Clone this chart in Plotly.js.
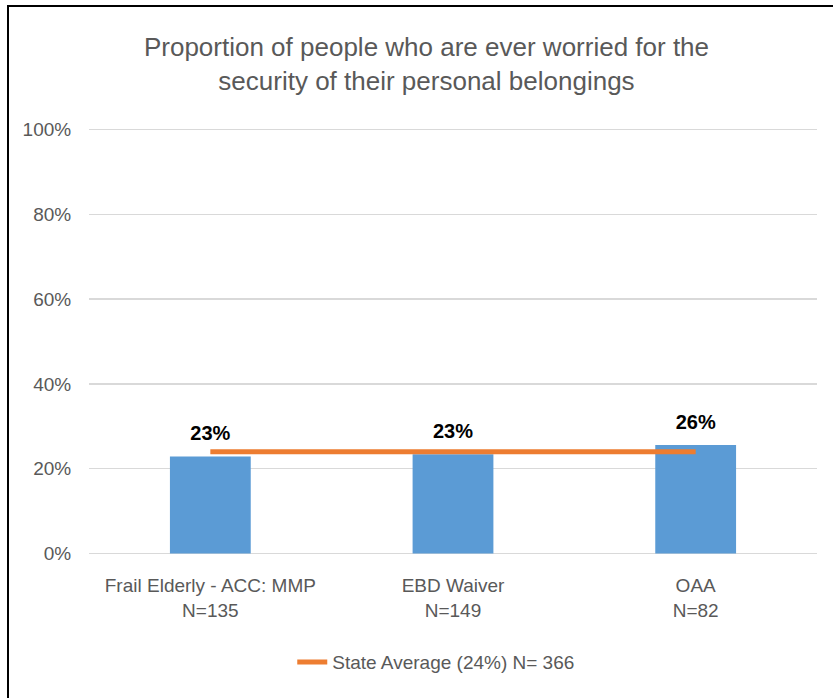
<!DOCTYPE html>
<html>
<head>
<meta charset="utf-8">
<script src="https://cdn.plot.ly/plotly-3.0.1.min.js"></script>
<style>
  html, body { margin: 0; padding: 0; background: #fff; }
  #chart { width: 833px; height: 698px; }
  #frame { position: absolute; left: 7px; top: 5px; width: 830px; height: 700px;
           border-top: 2.5px solid #000; border-left: 2.5px solid #000; pointer-events: none; box-sizing: border-box; }
</style>
</head>
<body>
<div id="chart"></div>
<div id="frame"></div>
<script>
const categories = ["Frail Elderly - ACC: MMP<br>N=135", "EBD Waiver<br>N=149", "OAA<br>N=82"];
const values = [22.9, 23.4, 25.6];
const stateAverage = [24, 24, 24];
const stateAverageName = "State Average (24%) N= 366";
const yTickVals = [0, 20, 40, 60, 80, 100];
const yTickText = ["0%", "20%", "40%", "60%", "80%", "100%"];

const FONT = "'Liberation Sans', Arial, sans-serif";
const GRAY = "#595959";

const traces = [
  {
    type: "bar",
    x: categories,
    y: values,
    width: 0.333,
    marker: { color: "#5B9BD5" },
    showlegend: false,
    hoverinfo: "skip"
  },
  {
    type: "scatter",
    mode: "lines",
    x: categories,
    y: stateAverage,
    name: stateAverageName,
    line: { color: "#ED7D31", width: 5 },
    hoverinfo: "skip"
  },
  {
    type: "scatter",
    mode: "markers+text",
    x: categories,
    y: values,
    text: values.map(v => Math.round(v) + "%"),
    textposition: "top center",
    textfont: { family: FONT, size: 20, color: "#000", weight: "bold" },
    marker: { size: 16, color: "rgba(0,0,0,0)" },
    showlegend: false,
    hoverinfo: "skip"
  }
];

const layout = {
  width: 833,
  height: 698,
  margin: { l: 89, r: 15.5, t: 126.5, b: 141.5 },
  paper_bgcolor: "#fff",
  plot_bgcolor: "#fff",
  font: { family: FONT, color: GRAY, size: 20 },
  title: {
    text: "Proportion of people who are ever worried for the<br>security of their personal belongings",
    font: { family: FONT, size: 26, color: GRAY },
    x: 0.512, xanchor: "center",
    yref: "container",
    y: 0.92, yanchor: "top"
  },
  xaxis: {
    type: "category",
    range: [-0.5, 2.5],
    showgrid: false,
    zeroline: false,
    showline: false,
    ticks: "",
    ticklabelstandoff: 16,
    tickfont: { family: FONT, size: 19, color: GRAY },
    fixedrange: true
  },
  yaxis: {
    range: [-0.6, 100.6],
    tickvals: yTickVals,
    ticktext: yTickText,
    showgrid: true,
    gridcolor: "#D9D9D9",
    gridwidth: 1.3,
    zeroline: false,
    showline: false,
    ticks: "outside",
    ticklen: 13,
    tickcolor: "rgba(0,0,0,0)",
    tickfont: { family: FONT, size: 19, color: GRAY },
    fixedrange: true
  },
  legend: {
    orientation: "h",
    x: 0.477, xanchor: "center",
    y: -0.203, yanchor: "top",
    font: { family: FONT, size: 19, color: GRAY }
  },
  showlegend: true
};

Plotly.newPlot("chart", traces, layout, { displayModeBar: false, staticPlot: true });
</script>
</body>
</html>
